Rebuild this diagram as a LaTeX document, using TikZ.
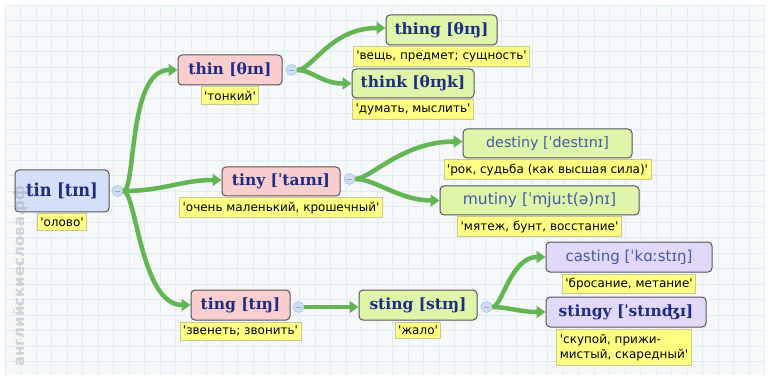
\documentclass[tikz,border=0pt]{standalone}
\usepackage{fontspec}
\setmainfont{DejaVu Sans}
\newfontfamily\wserif{DejaVu Serif}
\newfontfamily\wcond{DejaVu Serif Condensed}
\newfontfamily\wsans{DejaVu Sans}
\newfontfamily\lab{DejaVu Sans}
\usetikzlibrary{arrows.meta}
\definecolor{conn}{RGB}{100,182,85}
\definecolor{wtext}{RGB}{30,45,130}
\definecolor{wlight}{RGB}{70,90,165}
\definecolor{fblue}{RGB}{212,224,250}
\definecolor{fpink}{RGB}{250,206,206}
\definecolor{fgreen}{RGB}{222,245,170}
\definecolor{fpurple}{RGB}{226,216,250}
\definecolor{lfill}{RGB}{255,255,130}
\definecolor{lborder}{RGB}{200,200,150}
\definecolor{wborder}{RGB}{85,85,85}
\definecolor{bgc}{RGB}{246,248,250}
\definecolor{gridc}{RGB}{222,236,244}
\definecolor{cfill}{RGB}{205,222,245}
\definecolor{cdraw}{RGB}{165,195,230}
\tikzset{
  word/.style={draw=wborder, line width=1pt, rounded corners=4pt, inner sep=0pt, text=wtext},
  wb/.style={word, fill=fblue},
  wp/.style={word, fill=fpink},
  wg/.style={word, fill=fgreen},
  wv/.style={word, fill=fpurple},
  wfont/.style={font=\wserif\bfseries\fontsize{15.5}{15.5}\selectfont},
  lfont/.style={text=wlight, font=\wsans\fontsize{15}{15}\selectfont},
  transl/.style={fill=lfill, draw=lborder, line width=0.8pt, inner xsep=3pt, inner ysep=4pt, font=\lab\fontsize{12}{15}\selectfont, text=black, anchor=north},
  knob/.style={circle, fill=cfill, draw=cdraw, line width=0.6pt, minimum size=11pt, inner sep=0pt,
    path picture={\draw[gray!70, line width=0.6pt] ([xshift=-2.5pt]path picture bounding box.center) -- ([xshift=2.5pt]path picture bounding box.center);}},
  conn/.style={draw=conn, line width=4.5pt, -{Triangle[length=9pt,width=12pt]}},
}
\begin{document}
\begin{tikzpicture}[x=1pt,y=-1pt]
\useasboundingbox (0,0) rectangle (770,379);
\fill[white] (0,0) rectangle (770,379);
\fill[bgc] (5,5) rectangle (765,375);
\foreach \x in {5,20.5,...,765} \draw[gridc, line width=0.6pt] (\x,5) -- (\x,375);
\foreach \y in {5,20.5,...,375} \draw[gridc, line width=0.6pt] (5,\y) -- (765,\y);

% word nodes
\node[wb, minimum width=94, minimum height=42, font=\wcond\bfseries\fontsize{18}{18}\selectfont] (tin) at (62,191) {tin [tɪn]};
\node[wp, wfont, minimum width=104, minimum height=30] (thin) at (230,70) {thin [θɪn]};
\node[wg, wfont, minimum width=111, minimum height=30] (thing) at (441.5,30) {thing [θɪŋ]};
\node[wg, wfont, minimum width=122, minimum height=29] (think) at (413,83.5) {think [θɪŋk]};
\node[wp, wfont, minimum width=118, minimum height=29] (tiny) at (281,181.5) {tiny [ˈtaɪnɪ]};
\node[wg, lfont, minimum width=169, minimum height=29, font=\wsans\fontsize{14.3}{14.3}\selectfont] (destiny) at (547.5,143.5) {destiny [ˈdestɪnɪ]};
\node[wg, lfont, minimum width=199, minimum height=29, font=\wsans\fontsize{15.5}{15.5}\selectfont] (mutiny) at (539.5,200.5) {mutiny [ˈmjuːt(ə)nɪ]};
\node[wp, wfont, minimum width=99, minimum height=30] (ting) at (240.5,305) {ting [tɪŋ]};
\node[wg, wfont, minimum width=118, minimum height=30] (sting) at (418,305) {sting [stɪŋ]};
\node[wv, lfont, minimum width=166, minimum height=30] (casting) at (629,257) {casting [ˈkɑːstɪŋ]};
\node[wv, wfont, minimum width=160, minimum height=30] (stingy) at (626,312) {stingy [ˈstɪnʤɪ]};

% translations
\node[transl] (ltin) at ([yshift=-1]tin.south) {'олово'};
\node[transl] (lthin) at ([yshift=-1]thin.south) {'тонкий'};
\node[transl] (lthing) at ([yshift=-1]thing.south) {'вещь, предмет; сущность'};
\node[transl] (lthink) at ([yshift=-1]think.south) {'думать, мыслить'};
\node[transl] (ltiny) at ([yshift=-1]tiny.south) {'очень маленький, крошечный'};
\node[transl] (ldestiny) at ([yshift=-1]destiny.south) {'рок, судьба (как высшая сила)'};
\node[transl] (lmutiny) at ([yshift=-1]mutiny.south) {'мятеж, бунт, восстание'};
\node[transl] (lting) at ([yshift=-1]ting.south) {'звенеть; звонить'};
\node[transl] (lsting) at ([yshift=-1]sting.south) {'жало'};
\node[transl] (lcasting) at ([yshift=-1]casting.south) {'бросание, метание'};
\node[transl, align=left, inner ysep=5pt] (lstingy) at ([yshift=-1,xshift=-2]stingy.south) {'скупой, прижи-\\мистый, скаредный'};

% knobs
\node[knob] (ktin) at ([xshift=8]tin.east) {};
\node[knob] (kthin) at ([xshift=9]thin.east) {};
\node[knob] (ktiny) at ([xshift=9,yshift=2.5]tiny.east) {};
\node[knob] (kting) at ([xshift=8,yshift=-2]ting.east) {};
\node[knob] (ksting) at ([xshift=9,yshift=-2]sting.east) {};

% connectors
\draw[conn] (ktin.east) .. controls +(13,0) and +(-50,0) .. (thin.west);
\draw[conn] (ktin.east) .. controls +(40,0) and +(-40,0) .. ([yshift=1.5]tiny.west);
\draw[conn] (ktin.east) .. controls +(13,0) and +(-50,0) .. (ting.west);
\draw[conn] (kthin.east) .. controls +(15,0) and +(-55,0) .. ([yshift=2]thing.west);
\draw[conn] (kthin.east) .. controls +(15,0) and +(-30,0) .. (think.west);
\draw[conn] (ktiny.east) .. controls +(15,0) and +(-60,0) .. ([yshift=2]destiny.west);
\draw[conn] (ktiny.east) .. controls +(20,0) and +(-40,0) .. (mutiny.west);
\draw[conn] (kting.east) -- (kting.east -| sting.west);
\draw[conn] (ksting.east) .. controls +(10,0) and +(-35,0) .. (casting.west);
\draw[conn] (ksting.east) .. controls +(15,0) and +(-25,0) .. (stingy.west);

% watermark
\node[rotate=90, text=gray, opacity=0.3, font=\wsans\bfseries\fontsize{15}{15}\selectfont] (wm) at (20,276) {английскиеслова.рф};
\end{tikzpicture}
\end{document}
